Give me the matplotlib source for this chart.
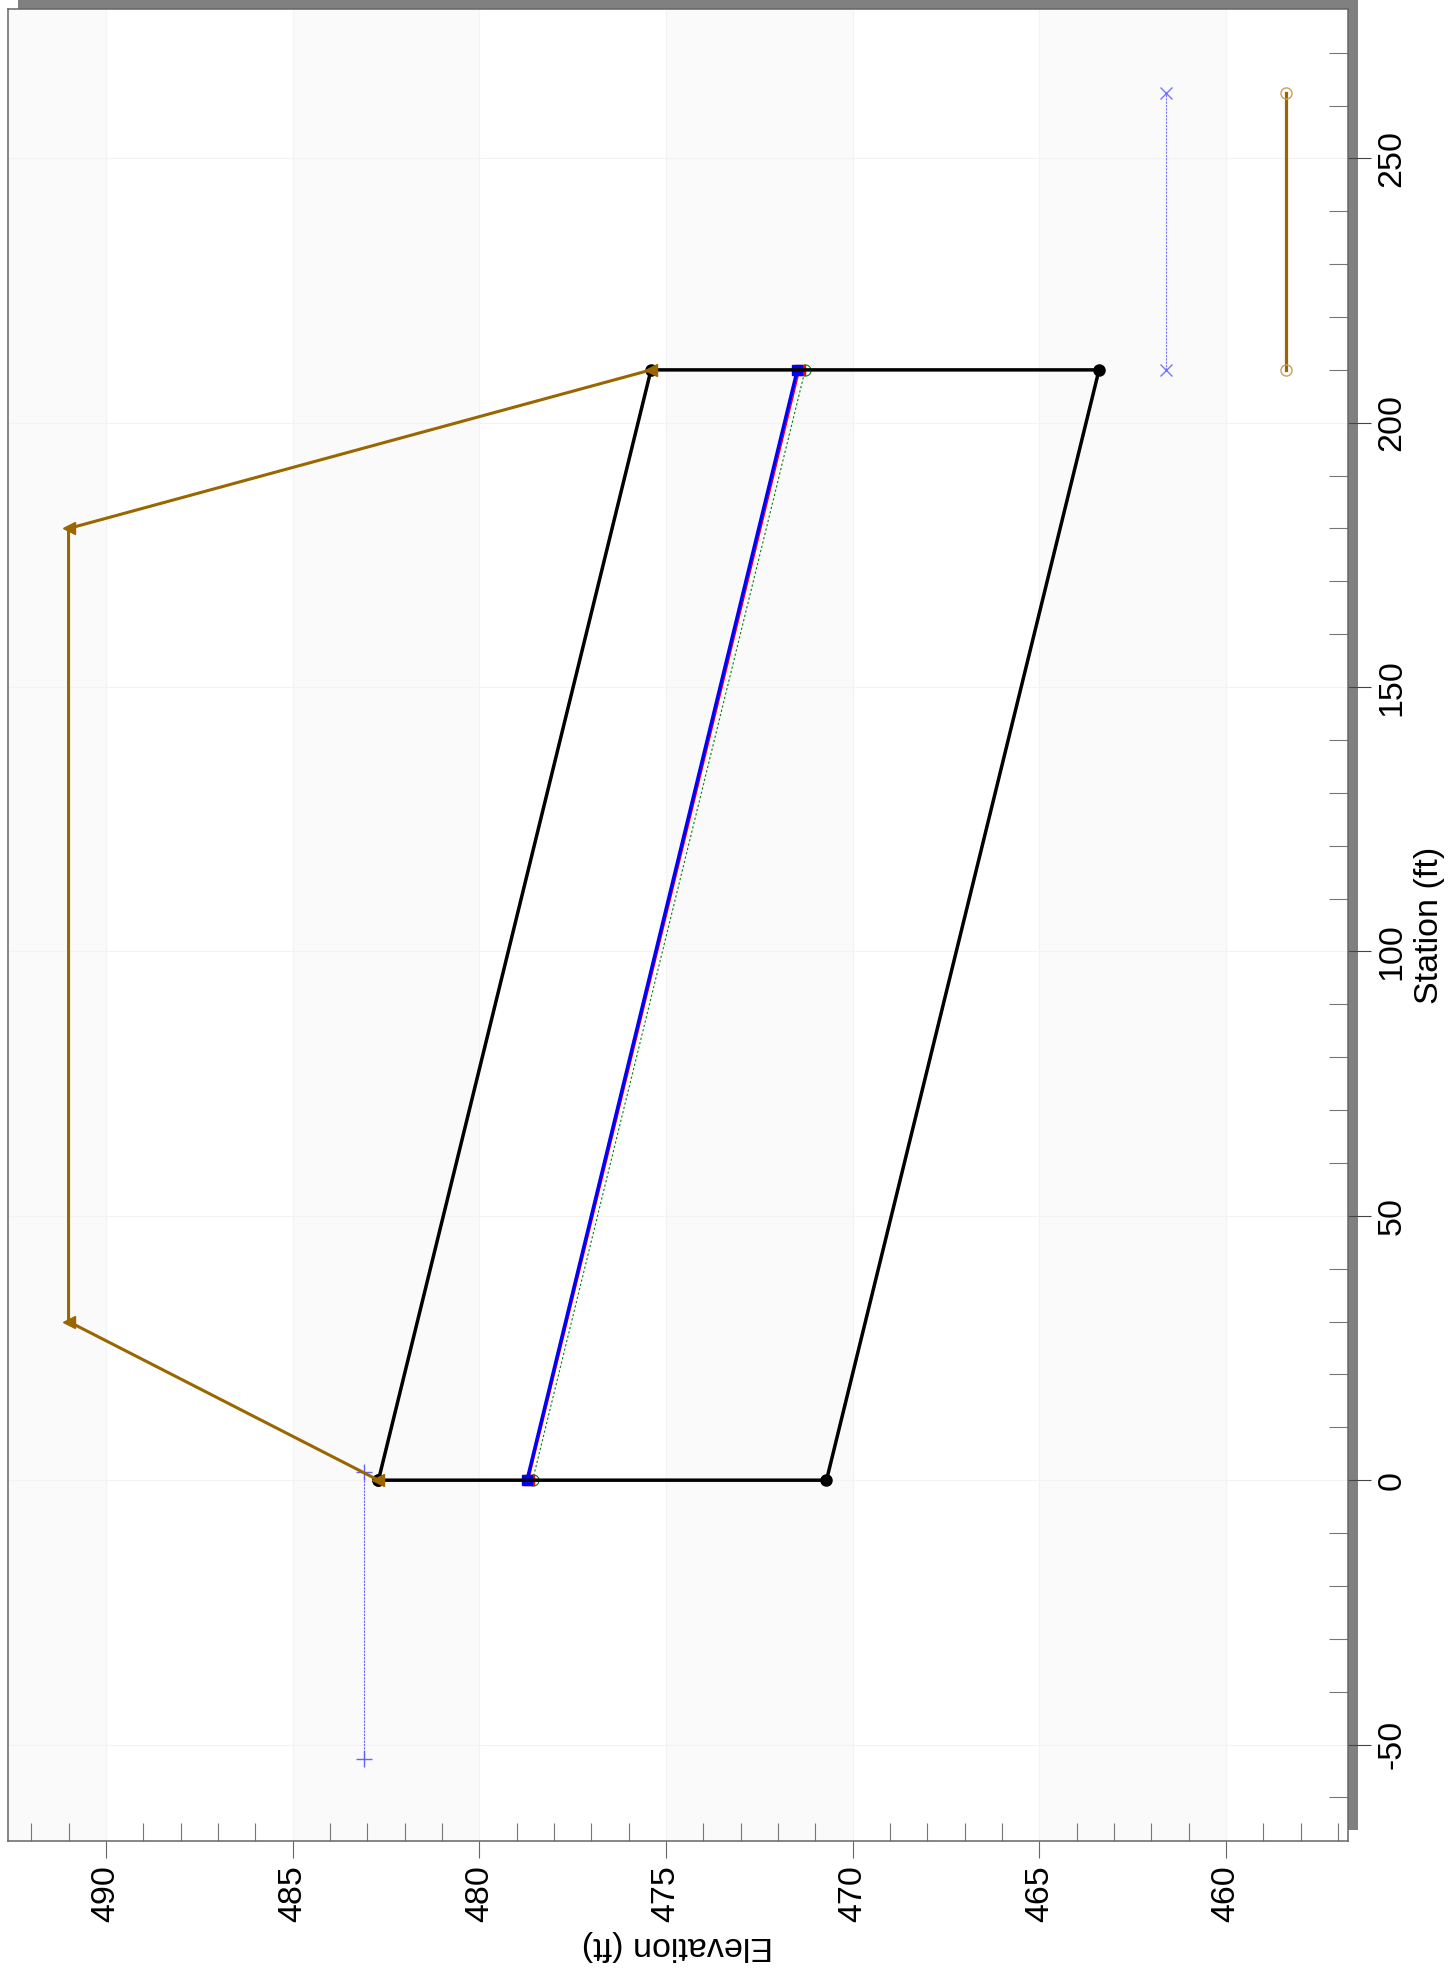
import matplotlib.pyplot as plt
from matplotlib.patches import Rectangle
from matplotlib.ticker import MultipleLocator

plt.rcParams['font.family'] = ['Liberation Sans', 'DejaVu Sans']
plt.rcParams['axes.unicode_minus'] = False

# culvert barrel outline (station ft, elevation ft)
barrel_station = [0, 0, 210, 210, 0]
barrel_elev = [482.7, 470.7, 463.4, 475.4, 482.7]

# roadway embankment crest
road_station = [0, 30, 180, 210]
road_elev = [482.7, 491.0, 491.0, 475.4]

# profiles inside the barrel
wse_station = [0, 210]
wse_elev = [478.72, 471.48]
hgl_station = [0, 210]
hgl_elev = [478.68, 471.42]
crit_station = [0, 210]
crit_elev = [478.57, 471.27]

# headwater pool upstream, tailwater and channel bed downstream
hw_station = [-52.7, 1.6]
hw_elev = [483.1, 483.1]
tw_station = [210, 262.4]
tw_elev = [461.6, 461.6]
bed_station = [210, 262.4]
bed_elev = [458.4, 458.4]

brown = '#996600'

fig = plt.figure(figsize=(14.5, 19.75), dpi=100)
W, H = 1450, 1975
left, right, top, bottom = 7.7, 1347.7, 9.3, 1841.3

# drop shadow behind the plot frame
fig.patches.append(Rectangle(((left + 10.6) / W, 1 - 1830 / H), (right - left) / W,
                             (1830 + 2) / H, transform=fig.transFigure,
                             facecolor='#808080', edgecolor='none', zorder=0))

ax = fig.add_axes([left / W, 1 - bottom / H, (right - left) / W, (bottom - top) / H])
ax.set_zorder(1)
ax.set_facecolor('white')

# the profile is laid on its side: elevation across, station up
ax.set_xlim(492.63, 456.74)
ax.set_ylim(-68.3, 278.2)

for lo in [460, 470, 480, 490]:
    ax.axvspan(lo, lo + 5, color='#fafafa', zorder=0, lw=0)
ax.grid(True, which='major', color='#f3f3f3', lw=0.8, zorder=0.5)

ax.plot(hw_elev, hw_station, color='#5555ff', lw=0.8, ls=(0, (2, 1)),
        marker='+', ms=11, mew=1, alpha=0.9, zorder=2)
ax.plot(tw_elev, tw_station, color='#5555ff', lw=0.8, ls=(0, (2, 1)),
        marker='x', ms=9, mew=1, alpha=0.8, zorder=2)
ax.plot(bed_elev, bed_station, color=brown, lw=2.3, marker='o', ms=8,
        mfc='none', mec='#c8a060', mew=1, zorder=2)

ax.plot(crit_elev, crit_station, color='green', lw=0.8, ls=(0, (2, 2)),
        marker='o', ms=8, mfc='none', mec='green', mew=0.8, zorder=3)
ax.plot(hgl_elev, hgl_station, color='red', lw=1.0, marker='s', ms=7, zorder=3)
ax.plot(wse_elev, wse_station, color='blue', lw=2.5, marker='s', ms=7, zorder=4)

ax.plot(barrel_elev, barrel_station, color='black', lw=2.5, marker='o', ms=8,
        solid_joinstyle='round', zorder=5)
ax.plot(road_elev, road_station, color=brown, lw=2.2, marker='<', ms=8, zorder=6)

# ticks: major outward with labels, minor inward
ax.xaxis.set_major_locator(MultipleLocator(5))
ax.xaxis.set_minor_locator(MultipleLocator(1))
ax.yaxis.set_major_locator(MultipleLocator(50))
ax.yaxis.set_minor_locator(MultipleLocator(10))
ax.yaxis.tick_right()
ax.yaxis.set_label_position('right')

ax.tick_params(axis='x', which='major', direction='out', length=12, width=0.8,
               color='#666666', labelsize=24.5, labelrotation=90, pad=5)
ax.tick_params(axis='x', which='minor', direction='in', length=12.7, width=0.8,
               color='#777777')
ax.tick_params(axis='y', which='major', direction='out', length=16.6, width=0.8,
               color='#444444', labelsize=24.5, labelrotation=90, pad=4)
ax.tick_params(axis='y', which='minor', direction='in', length=13.9, width=0.8,
               color='#777777')
for lab in ax.get_yticklabels():
    lab.set_verticalalignment('center')

for s in ax.spines.values():
    s.set_color('#666666')
    s.set_linewidth(1.1)

ax.set_xlabel('Elevation (ft)', fontsize=24.5, rotation=180)
ax.xaxis.label.set(ha='center', va='center')
ax.xaxis.set_label_coords(0.5, -0.0571)
ax.set_ylabel('Station (ft)', fontsize=24.5, rotation=90)
ax.yaxis.label.set(ha='center', va='center')
ax.yaxis.set_label_coords(1.0614, 0.5)

fig.savefig('out.png', dpi=100)
